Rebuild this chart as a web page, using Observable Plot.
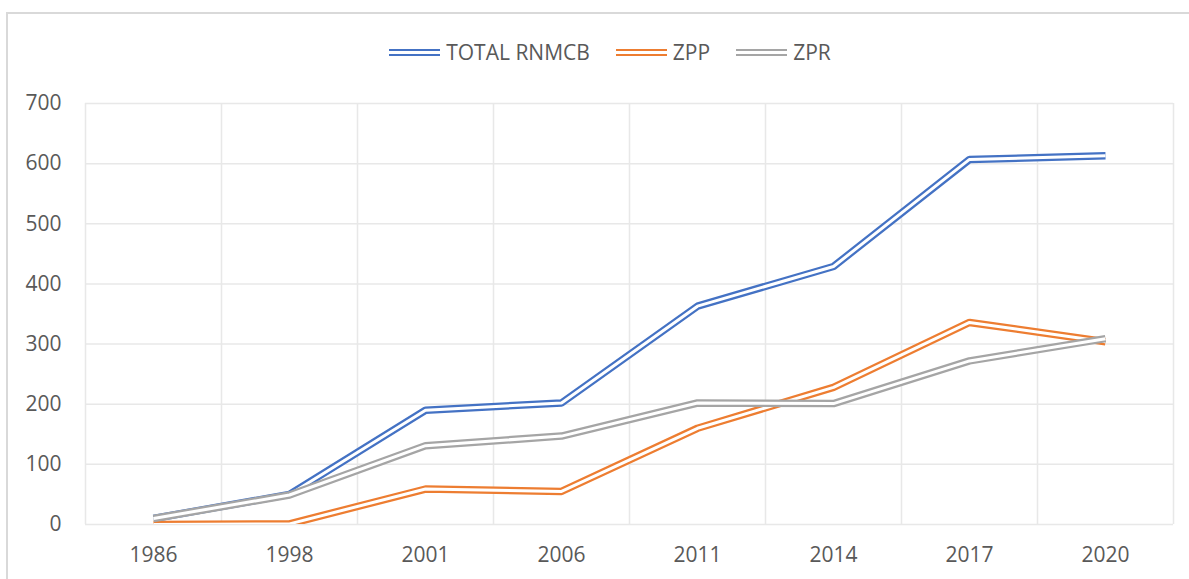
<!DOCTYPE html>
<html>
<head>
<meta charset="utf-8">
<script src="https://cdn.jsdelivr.net/npm/d3@7"></script>
<script src="https://cdn.jsdelivr.net/npm/@observablehq/plot@0.6"></script>
<style>
  html, body { margin: 0; padding: 0; background: #fff; }
  #wrap { position: relative; width: 1189px; height: 579px; overflow: hidden; font-family: "Open Sans", sans-serif; color: #595959; }
  #border { position: absolute; left: 6px; top: 12px; width: 1210px; height: 620px; border: 2px solid #d9d9d9; box-sizing: border-box; pointer-events: none; }
  #legend { position: absolute; left: 0; top: 38px; width: 1220px; height: 28px; display: flex; justify-content: center; align-items: center; font-size: 21px; line-height: 28px; }
  .item { display: flex; align-items: center; margin: 0 13px; }
  .sw { width: 51px; height: 3px; border-top: 2.5px solid; border-bottom: 2.5px solid; margin-right: 6px; }
  #chart { position: absolute; left: 0; top: 80px; }
</style>
</head>
<body>
<div id="wrap">
  <div id="legend"></div>
  <div id="chart"></div>
  <div id="border"></div>
</div>
<script>
const years = ["1986", "1998", "2001", "2006", "2011", "2014", "2017", "2020"];
const totalRnmcb = [10, 50, 190, 202, 363, 429, 607, 613];
const zpp = [0, 1, 59, 55, 160, 228, 336, 304];
const zpr = [10, 49, 131, 147, 202, 201, 272, 309];
const seriesNames = ["TOTAL RNMCB", "ZPP", "ZPR"];
const yTicks = [0, 100, 200, 300, 400, 500, 600, 700];

const seriesValues = [totalRnmcb, zpp, zpr];
const colors = ["#4472C4", "#ED7D31", "#A5A5A5"];

const rows = [];
seriesNames.forEach((s, k) => {
  years.forEach((y, i) => rows.push({series: s, i, year: y, v: seriesValues[k][i]}));
});

// legend
const legend = document.getElementById("legend");
seriesNames.forEach((s, k) => {
  const item = document.createElement("div");
  item.className = "item";
  const sw = document.createElement("div");
  sw.className = "sw";
  sw.style.borderColor = colors[k];
  const t = document.createElement("span");
  t.textContent = s;
  item.appendChild(sw);
  item.appendChild(t);
  legend.appendChild(item);
});

const lineMarks = [];
seriesNames.forEach((s, k) => {
  const data = rows.filter(d => d.series === s);
  lineMarks.push(Plot.line(data, {x: "i", y: "v", stroke: colors[k], strokeWidth: 7.5, strokeLinejoin: "miter", strokeLinecap: "butt", clip: true}));
  lineMarks.push(Plot.line(data, {x: "i", y: "v", stroke: "white", strokeWidth: 3, strokeLinejoin: "miter", strokeLinecap: "butt", clip: true}));
});

const chart = Plot.plot({
  width: 1189,
  height: 499,
  marginTop: 23,
  marginBottom: 55,
  marginLeft: 85,
  marginRight: 16,
  style: {fontFamily: "Open Sans", fontSize: "21px", color: "#595959", background: "transparent", overflow: "visible"},
  x: {domain: [-0.5, years.length - 0.5], label: null},
  y: {domain: [0, 700], label: null},
  marks: [
    Plot.ruleY(yTicks, {stroke: "#e8e8e8", strokeWidth: 1.5}),
    Plot.ruleX(d3.range(years.length + 1), {x: i => i - 0.5, stroke: "#e8e8e8", strokeWidth: 1.5}),
    ...lineMarks,
    Plot.axisY({ticks: yTicks, tickSize: 0, tickPadding: 24, label: null, fontSize: 21}),
    Plot.axisX({ticks: d3.range(years.length), tickFormat: i => years[i], tickSize: 0, tickPadding: 23, label: null, fontSize: 21})
  ]
});
document.getElementById("chart").appendChild(chart);
</script>
</body>
</html>
